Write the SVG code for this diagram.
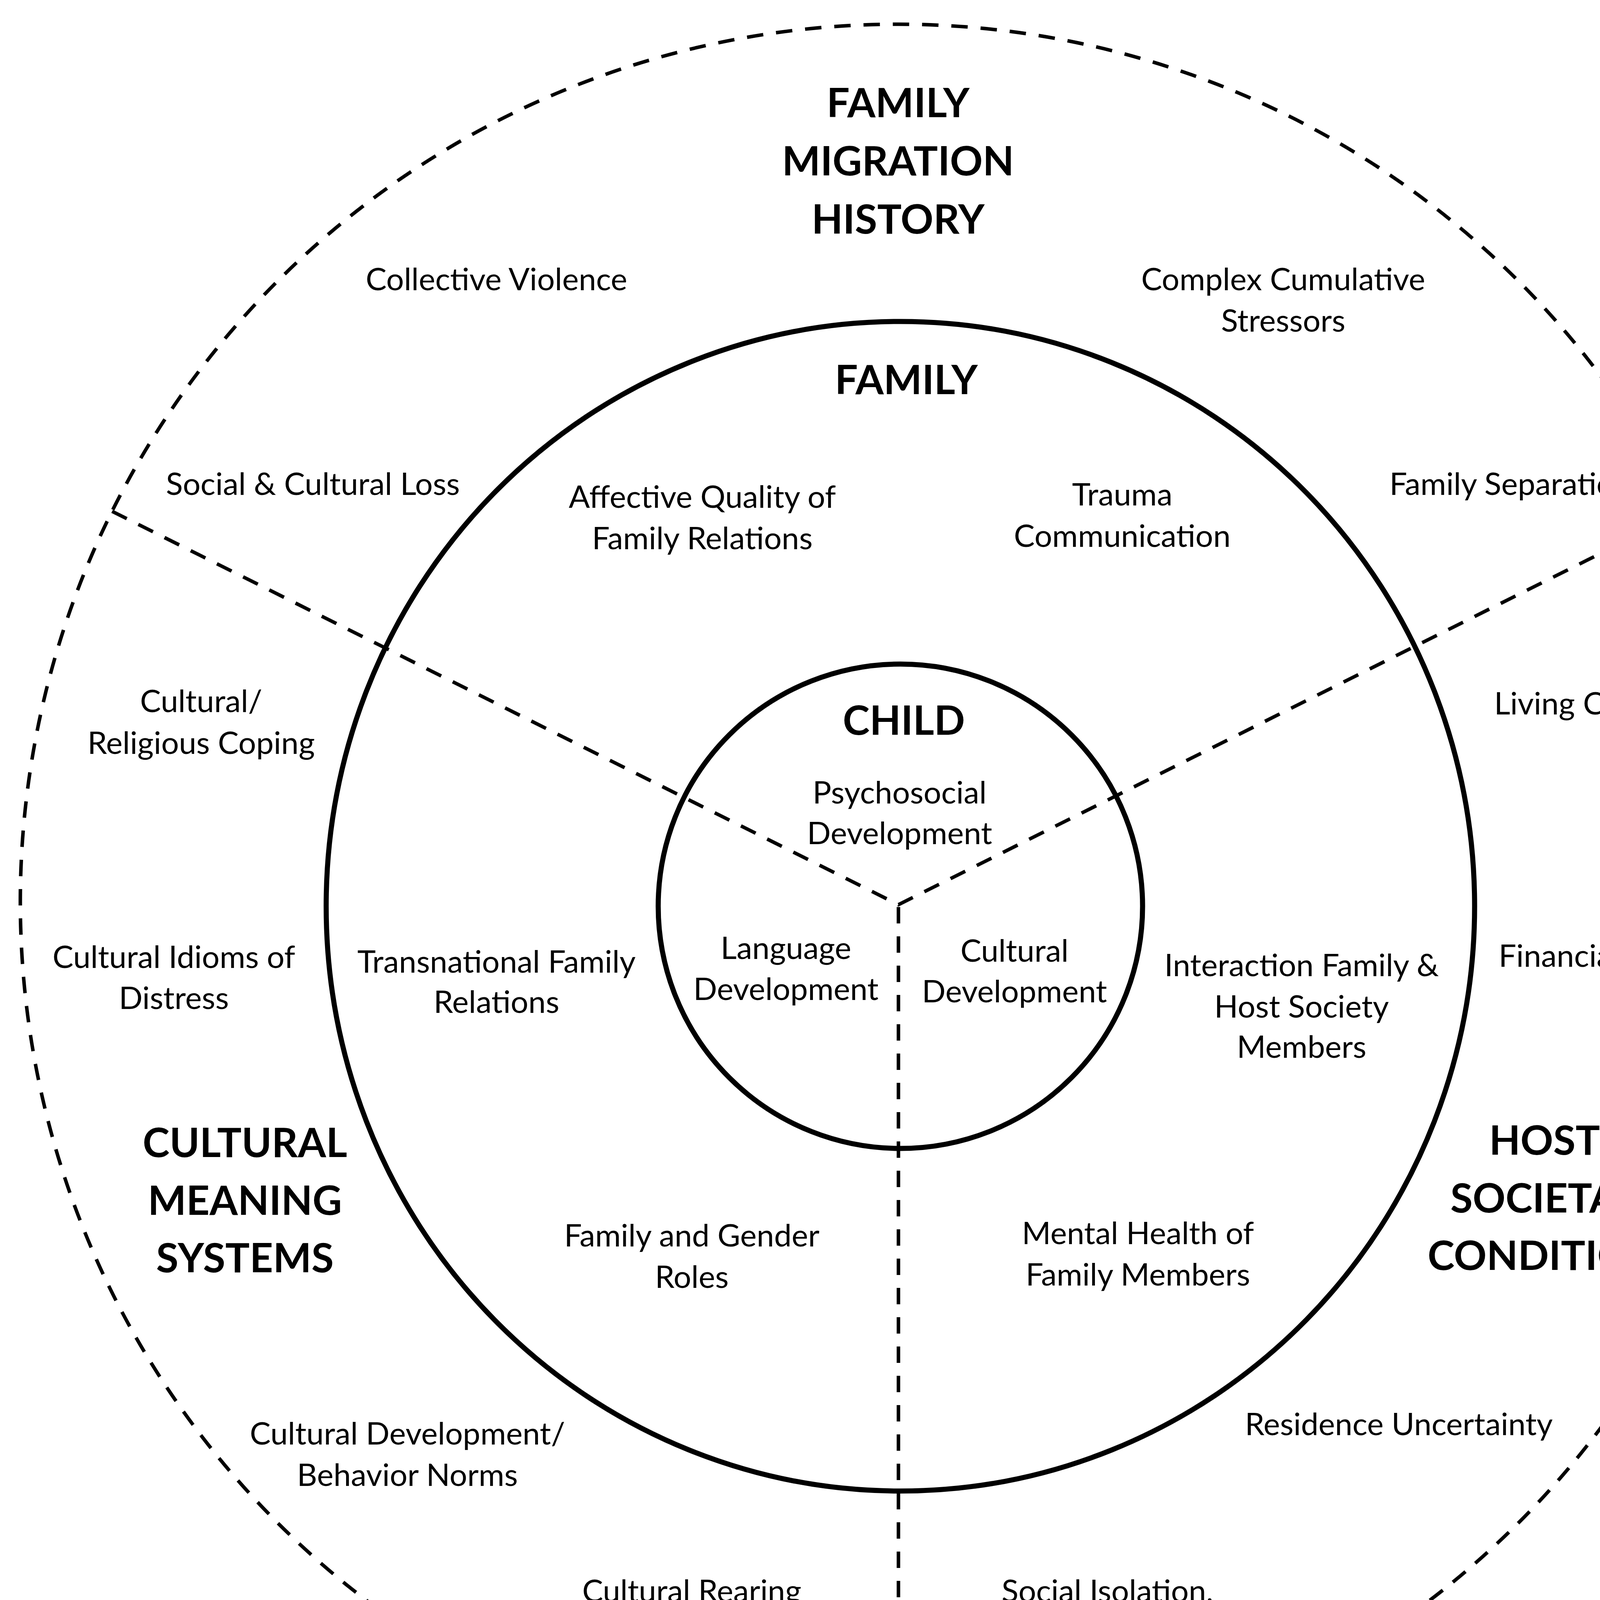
<svg xmlns="http://www.w3.org/2000/svg" width="4584" height="4619" viewBox="0 0 4584 4619">
<style>
.t{font-family:Lato,"Open Sans","Liberation Sans",sans-serif;font-size:80px;fill:#000;text-anchor:middle}
.h{font-family:Lato,"Open Sans","Liberation Sans",sans-serif;font-size:104px;font-weight:700;fill:#000;text-anchor:middle}
.dash{fill:none;stroke:#000;stroke-width:9;stroke-dasharray:42 33}
.solid{fill:none;stroke:#000;stroke-width:13}
</style>
<rect width="4584" height="4619" fill="#fff"/>
<g id="rings">
<circle id="outer-ring" class="dash" cx="2299" cy="2309" r="2247"/>
<ellipse id="family-ring" class="solid" cx="2305" cy="2320" rx="1470" ry="1497"/>
<circle id="child-ring" class="solid" cx="2305" cy="2320" r="620"/>
</g>
<g id="connectors">
<path class="dash" d="M287 1309 L2300 2316 L4313 1309"/>
<path class="dash" d="M2300 2322 L2300 4556"/>
</g>
<g id="family-migration-history"><text class="h" x="2299" y="300">FAMILY<tspan x="2299" y="449">MIGRATION</tspan><tspan x="2299" y="598">HISTORY</tspan></text></g>
<g id="collective-violence"><text class="t" x="1271" y="743">Collective Violence</text></g>
<g id="complex-cumulative-stressors"><text class="t" x="3285" y="743">Complex Cumulative<tspan x="3285" y="849">Stressors</tspan></text></g>
<g id="family"><text class="h" x="2320" y="1009">FAMILY</text></g>
<g id="social-cultural-loss"><text class="t" x="801" y="1267">Social &amp; Cultural Loss</text></g>
<g id="affective-quality"><text class="t" x="1798" y="1300">Affective Quality of<tspan x="1798" y="1406">Family Relations</tspan></text></g>
<g id="trauma-communication"><text class="t" x="2873" y="1294">Trauma<tspan x="2873" y="1400">Communication</tspan></text></g>
<g id="family-separation"><text class="t" x="3867" y="1267">Family Separation</text></g>
<g id="child"><text class="h" x="2314" y="1881">CHILD</text></g>
<g id="psychosocial-development"><text class="t" x="2303" y="2057">Psychosocial<tspan x="2303" y="2161">Development</tspan></text></g>
<g id="cultural-religious-coping"><text class="t" x="515" y="1823">Cultural/<tspan x="515" y="1930">Religious Coping</tspan></text></g>
<g id="living-conditions"><text class="t" x="4129" y="1829">Living Conditions</text></g>
<g id="cultural-idioms"><text class="t" x="445" y="2478">Cultural Idioms of<tspan x="445" y="2583">Distress</tspan></text></g>
<g id="transnational-family-relations"><text class="t" x="1271" y="2490">Transnational Family<tspan x="1271" y="2593">Relations</tspan></text></g>
<g id="language-development"><text class="t" x="2012" y="2455">Language<tspan x="2012" y="2560">Development</tspan></text></g>
<g id="cultural-development-child"><text class="t" x="2597" y="2462">Cultural<tspan x="2597" y="2566">Development</tspan></text></g>
<g id="interaction-family-host"><text class="t" x="3332" y="2499">Interaction Family &amp;<tspan x="3332" y="2605">Host Society</tspan><tspan x="3332" y="2708">Members</tspan></text></g>
<g id="financial-hardship"><text class="t" x="4159" y="2475">Financial Hardship</text></g>
<g id="cultural-meaning-systems"><text class="h" x="627" y="2962">CULTURAL<tspan x="627" y="3110">MEANING</tspan><tspan x="627" y="3257">SYSTEMS</tspan></text></g>
<g id="host-societal-condition"><text class="h" x="3954" y="2956">HOST<tspan x="3954" y="3104">SOCIETAL</tspan><tspan x="3954" y="3251">CONDITION</tspan></text></g>
<g id="family-gender-roles"><text class="t" x="1771" y="3191">Family and Gender<tspan x="1771" y="3297">Roles</tspan></text></g>
<g id="mental-health"><text class="t" x="2913" y="3185">Mental Health of<tspan x="2913" y="3291">Family Members</tspan></text></g>
<g id="cultural-development-norms"><text class="t" x="1043" y="3698">Cultural Development/<tspan x="1043" y="3804">Behavior Norms</tspan></text></g>
<g id="residence-uncertainty"><text class="t" x="3581" y="3674">Residence Uncertainty</text></g>
<g id="cultural-rearing-practices"><text class="t" x="1771" y="4101">Cultural Rearing<tspan x="1771" y="4204">Practices</tspan></text></g>
<g id="social-isolation"><text class="t" x="2835" y="4101">Social Isolation,<tspan x="2835" y="4204">Exclusion &amp;</tspan><tspan x="2835" y="4310">Discrimination</tspan></text></g>
</svg>
